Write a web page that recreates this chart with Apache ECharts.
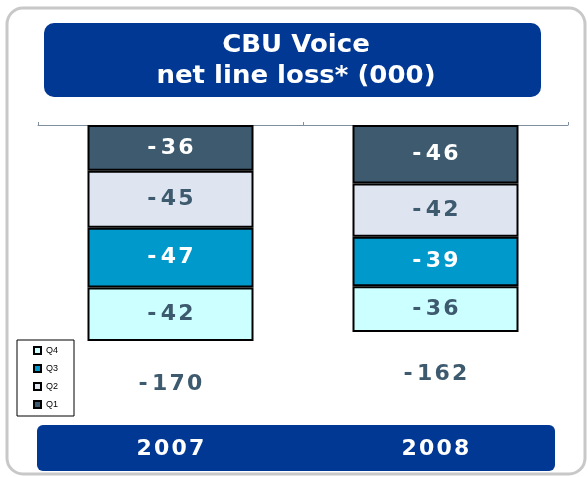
<!DOCTYPE html>
<html>
<head>
<meta charset="utf-8">
<script src="https://cdn.jsdelivr.net/npm/echarts@6/dist/echarts.min.js"></script>
<style>html,body{margin:0;padding:0;background:#fff;}#c{width:588px;height:477px;}</style>
</head>
<body>
<div id="c"></div>
<script>
const categories = ['2007', '2008'];
const q1 = [-36, -46];
const q2 = [-45, -42];
const q3 = [-47, -39];
const q4 = [-42, -36];
const totals = [-170, -162];
const titleLines = ['CBU Voice', 'net line loss* (000)'];

// hair spaces between digits, thin space after minus sign
const spaced = s => {
  const str = String(s);
  const neg = str[0] === '-';
  const digits = (neg ? str.slice(1) : str).split('').join('\u200A');
  return neg ? '-\u2009' + digits : digits;
};
const dark = '#3d5a6e';

function barSeries(name, data, color, labelColor) {
  return {
    name: name, type: 'bar', stack: 'a', data: data, barWidth: 166,
    itemStyle: { color: color, borderColor: '#000', borderWidth: 2 },
    label: {
      show: true, position: 'inside', color: labelColor,
      fontFamily: 'DejaVu Sans', fontWeight: 'bold', fontSize: 22,
      formatter: p => spaced(p.value)
    },
    emphasis: { disabled: true }
  };
}

const chart = echarts.init(document.getElementById('c'), null, { renderer: 'canvas' });
chart.setOption({
  animation: false,
  backgroundColor: '#fff',
  graphic: [
    { type: 'rect', z: -10, shape: { x: 7, y: 8, width: 578, height: 466, r: 16 },
      style: { fill: '#fff', stroke: '#c8c8c8', lineWidth: 3 } },
    { type: 'rect', z: 0, shape: { x: 44, y: 23, width: 497, height: 74, r: 10 },
      style: { fill: '#003894' } },
    { type: 'text', z: 1, x: 296, y: 46, scaleY: 0.92,
      style: { text: titleLines[0], fill: '#fff', font: 'bold 26px "DejaVu Sans"', textAlign: 'center', textVerticalAlign: 'middle' } },
    { type: 'text', z: 1, x: 296, y: 77, scaleY: 0.92,
      style: { text: titleLines[1], fill: '#fff', font: 'bold 26px "DejaVu Sans"', textAlign: 'center', textVerticalAlign: 'middle' } },
    { type: 'rect', z: 0, shape: { x: 37, y: 425, width: 518, height: 46, r: 6 },
      style: { fill: '#003894' } }
  ],
  legend: {
    orient: 'vertical', left: 17, top: 340,
    data: ['Q4', 'Q3', 'Q2', 'Q1'],
    icon: 'rect', itemWidth: 7, itemHeight: 7, itemGap: 9,
    backgroundColor: '#fff', borderColor: '#000', borderWidth: 1, borderRadius: 0,
    padding: [6, 16, 7, 16],
    textStyle: { fontSize: 9, fontFamily: 'Liberation Sans', color: '#000' },
    selectedMode: false
  },
  grid: { left: 38, right: 20, top: 125, height: 254 },
  xAxis: [
    { type: 'category', data: categories, position: 'top',
      axisLine: { lineStyle: { color: '#7f8fa0', width: 1 } },
      axisTick: { show: true, length: 3, lineStyle: { color: '#7f8fa0' } },
      axisLabel: { show: false } },
    { type: 'category', data: categories, position: 'bottom', gridIndex: 0,
      axisLine: { show: false }, axisTick: { show: false },
      axisLabel: { show: true, margin: 59, color: '#fff', fontFamily: 'DejaVu Sans', fontWeight: 'bold', fontSize: 22,
        formatter: v => spaced(v) } }
  ],
  yAxis: { type: 'value', min: -200, max: 0, show: false, splitLine: { show: false } },
  series: [
    barSeries('Q1', q1, '#3d5a6e', '#fff'),
    barSeries('Q2', q2, '#dfe5f0', dark),
    barSeries('Q3', q3, '#0099cc', '#fff'),
    barSeries('Q4', q4, '#ccffff', dark),
    { name: 'total', type: 'scatter', data: totals, symbolSize: 1,
      itemStyle: { color: 'rgba(0,0,0,0)', opacity: 1 },
      label: { show: true, position: 'bottom', distance: 32, color: dark, opacity: 1,
        fontFamily: 'DejaVu Sans', fontWeight: 'bold', fontSize: 22,
        formatter: p => spaced(p.value) },
      emphasis: { disabled: true } }
  ]
});
</script>
</body>
</html>
